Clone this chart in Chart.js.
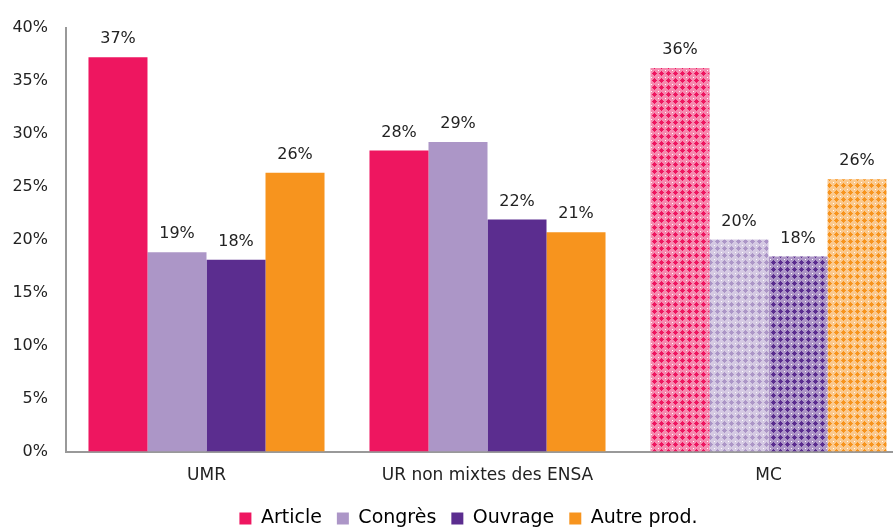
<!DOCTYPE html>
<html><head><meta charset="utf-8">
<script src="https://cdn.jsdelivr.net/npm/chart.js@4.4.1/dist/chart.umd.min.js"></script>
<style>
html,body{margin:0;padding:0;overflow:hidden;background:#fff;width:893px;height:527px}
#wrap{position:absolute;left:0;top:0;width:937px;height:538px}
</style></head><body>
<div id="wrap"><canvas id="c" width="937" height="538"></canvas></div>
<script>
const categories = ["UMR", "UR non mixtes des ENSA", "MC"];
const seriesNames = ["Article", "Congrès", "Ouvrage", "Autre prod."];
const article = [37.2, 28.4, 36.2];
const congres = [18.8, 29.2, 20.0];
const ouvrage = [18.1, 21.9, 18.4];
const autre = [26.3, 20.7, 25.7];
const yTicks = [0, 5, 10, 15, 20, 25, 30, 35, 40];
const colors = ["#EE1660", "#AC96C7", "#5B2D8F", "#F7941E"];
const patternedIndex = 2; // MC group uses a lattice pattern
const FONT = 'DejaVu Sans';

function makePattern(color) {
  const p = document.createElement('canvas');
  p.width = 7; p.height = 7;
  const g = p.getContext('2d');
  g.fillStyle = '#ffffff';
  g.fillRect(0, 0, 7, 7);
  g.globalAlpha = 0.5;
  g.fillStyle = color;
  g.fillRect(0, 0, 7, 7);
  g.globalAlpha = 1;
  g.fillStyle = color;
  g.fillRect(3, 1, 1, 5);
  g.fillRect(1, 3, 5, 1);
  g.fillRect(2, 2, 3, 3);
  g.fillStyle = '#ffffff';
  g.fillRect(0, 0, 1, 1);
  return document.getElementById('c').getContext('2d').createPattern(p, 'repeat');
}

const seriesData = [article, congres, ouvrage, autre];
const datasets = seriesData.map((d, i) => {
  const pat = makePattern(colors[i]);
  return {
    label: seriesNames[i],
    data: d,
    backgroundColor: categories.map((c, k) => k === patternedIndex ? pat : colors[i]),
    borderWidth: 0,
    categoryPercentage: 0.84,
    barPercentage: 1.0
  };
});

const labelPlugin = {
  id: 'barLabels',
  afterDatasetsDraw(chart) {
    const ctx = chart.ctx;
    ctx.save();
    ctx.font = '16px ' + FONT;
    ctx.fillStyle = '#222';
    ctx.textAlign = 'center';
    ctx.textBaseline = 'bottom';
    chart.data.datasets.forEach((ds, i) => {
      chart.getDatasetMeta(i).data.forEach((bar, j) => {
        ctx.fillText(Math.round(ds.data[j]) + '%', bar.x, bar.y - 10);
      });
    });
    ctx.restore();
  }
};

new Chart(document.getElementById('c'), {
  type: 'bar',
  data: { labels: categories, datasets },
  options: {
    responsive: false,
    animation: false,
    layout: { padding: { left: 0, right: 0, top: 27, bottom: 0 } },
    plugins: {
      legend: {
        position: 'bottom',
        labels: {
          color: '#111', font: { family: FONT, size: 19 },
          boxWidth: 12, boxHeight: 12, padding: 15,
          generateLabels(chart) {
            return seriesNames.map((n, i) => ({
              text: n, fillStyle: colors[i], strokeStyle: colors[i], lineWidth: 0, datasetIndex: i
            }));
          }
        }
      },
      tooltip: { enabled: false }
    },
    scales: {
      x: {
        grid: { display: false, drawTicks: false },
        border: { color: '#999', width: 2 },
        ticks: { color: '#222', font: { family: FONT, size: 17 }, padding: 14 },
        afterFit(s) { s.height = s.height - 6; }
      },
      y: {
        min: 0, max: 40,
        afterBuildTicks(s) { s.ticks = yTicks.map(v => ({ value: v })); },
        afterFit(s) { s.width = 66; },
        grid: { display: false, drawTicks: false },
        border: { color: '#999', width: 2 },
        ticks: { color: '#222', font: { family: FONT, size: 16 }, padding: 18, callback: v => v + '%' }
      },
      y2: {
        position: 'right',
        min: 0, max: 40,
        grid: { display: false, drawTicks: false },
        border: { display: false },
        ticks: { display: false },
        afterFit(s) { s.width = 28; }
      }
    }
  },
  plugins: [labelPlugin]
});
</script>
</body></html>
